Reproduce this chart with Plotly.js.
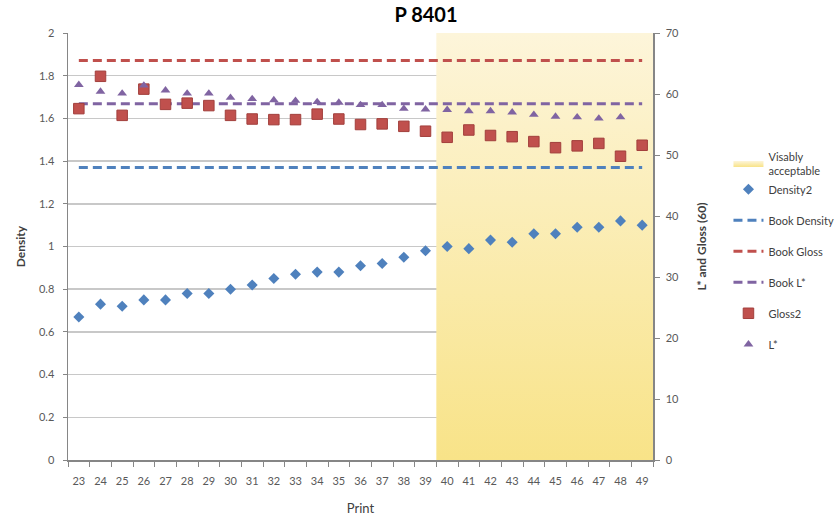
<!DOCTYPE html>
<html>
<head>
<meta charset="utf-8">
<script src="https://cdn.plot.ly/plotly-3.0.1.min.js"></script>
<style>
  html, body { margin: 0; padding: 0; background: #fff; }
  #chart { width: 837px; height: 519px; }
</style>
</head>
<body>
<div id="chart"></div>
<script>
// Print numbers along the run
const prints = [23, 24, 25, 26, 27, 28, 29, 30, 31, 32, 33, 34, 35, 36, 37, 38, 39,
                40, 41, 42, 43, 44, 45, 46, 47, 48, 49];

// Measured density per print (left axis)
const density2 = [0.67, 0.73, 0.72, 0.75, 0.75, 0.78, 0.78, 0.80, 0.82, 0.85, 0.87, 0.88, 0.88,
                  0.91, 0.92, 0.95, 0.98, 1.00, 0.99, 1.03, 1.02, 1.06, 1.06, 1.09, 1.09, 1.12, 1.10];

// Measured gloss (60°) per print (right axis)
const gloss2 = [57.6, 62.9, 56.5, 60.8, 58.3, 58.5, 58.1, 56.5, 55.9, 55.8, 55.8, 56.7, 55.9,
                55.0, 55.1, 54.7, 53.9, 52.9, 54.1, 53.2, 53.0, 52.2, 51.2, 51.5, 51.9, 49.8, 51.6];

// Measured L* per print (right axis); print 49 was not measured
const lStar = [61.5, 60.4, 60.1, 61.4, 60.6, 60.1, 60.1, 59.4, 59.2, 59.0, 58.9, 58.7, 58.6,
               58.2, 58.2, 57.6, 57.5, 57.4, 57.2, 57.2, 57.0, 56.6, 56.3, 56.2, 56.0, 56.2, null];

// Book reference targets
const bookDensity = 1.37;
const bookGloss = 65.5;
const bookL = 58.4;

// Prints judged visually acceptable; the band fills the full height of the density axis
const acceptablePrints = [40, 41, 42, 43, 44, 45, 46, 47, 48, 49];
const bandTop = 2;

const BLUE = '#4f81bd', RED = '#c0504d', PURPLE = '#8064a2';
const dashPattern = '9px,5px';
const first = prints[0], last = prints[prints.length - 1];
const bandStart = acceptablePrints[0] - 0.5;
const bandEnd = acceptablePrints[acceptablePrints.length - 1] + 0.5;

const traces = [
  {
    name: 'Visably<br>acceptable',
    x: [bandStart, bandEnd], y: [bandTop, bandTop],
    type: 'scatter', mode: 'none',
    fill: 'tozeroy',
    fillcolor: '#fbeeb0',
    fillgradient: {type: 'vertical', start: 0, stop: bandTop,
                   colorscale: [[0, '#f8e388'], [1, '#fdf5da']]},
    legendgroup: 'g1', hoverinfo: 'skip'
  },
  {
    name: 'Density2', x: prints, y: density2, type: 'scatter', mode: 'markers',
    marker: {symbol: 'diamond', size: 8.5, color: BLUE},
    legendgroup: 'g1'
  },
  {
    name: 'Book Density', x: [first, last], y: [bookDensity, bookDensity],
    type: 'scatter', mode: 'lines',
    line: {color: BLUE, width: 3, dash: dashPattern},
    legendgroup: 'g2'
  },
  {
    name: 'Book Gloss', x: [first, last], y: [bookGloss, bookGloss], yaxis: 'y2',
    type: 'scatter', mode: 'lines',
    line: {color: RED, width: 3, dash: dashPattern},
    legendgroup: 'g3'
  },
  {
    name: 'Book L*', x: [first, last], y: [bookL, bookL], yaxis: 'y2',
    type: 'scatter', mode: 'lines',
    line: {color: PURPLE, width: 3, dash: dashPattern},
    legendgroup: 'g4'
  },
  {
    name: 'Gloss2', x: prints, y: gloss2, yaxis: 'y2', type: 'scatter', mode: 'markers',
    marker: {symbol: 'square', size: 10.5, color: RED, line: {color: '#a23f3c', width: 1}},
    legendgroup: 'g5'
  },
  {
    name: 'L*', x: prints, y: lStar, yaxis: 'y2', type: 'scatter', mode: 'markers',
    marker: {symbol: 'triangle-up', size: 8.5, color: PURPLE},
    legendgroup: 'g6'
  }
];

const tickFont = {family: 'Lato, "Open Sans", sans-serif', size: 11, color: '#595959'};

const layout = {
  width: 837, height: 519,
  margin: {l: 68, r: 184, t: 33, b: 59, autoexpand: false},
  paper_bgcolor: '#ffffff', plot_bgcolor: '#ffffff',
  font: {family: 'Lato, "Open Sans", sans-serif', color: '#404040'},
  title: {
    text: '<b>P 8401</b>',
    font: {size: 20, color: '#000000', family: 'Lato, "Open Sans", sans-serif'},
    xref: 'container', yref: 'container',
    x: 0.509, xanchor: 'center', y: 1 - 15 / 519, yanchor: 'middle'
  },
  showlegend: true,
  legend: {
    x: 1.129, xanchor: 'left', y: 0.742, yanchor: 'top',
    font: {size: 11, color: '#404040'},
    traceorder: 'grouped', tracegroupgap: 12,
    bgcolor: 'rgba(0,0,0,0)'
  },
  xaxis: {
    range: [first - 0.5, last + 0.5],
    tickmode: 'array', tickvals: prints, ticktext: prints.map(String),
    ticks: '', showgrid: false, zeroline: false,
    showline: true, linecolor: '#868686', linewidth: 1.5,
    tickfont: tickFont, ticklabelstandoff: 10,
    minor: {tick0: first - 0.5, dtick: 1, ticks: 'outside', ticklen: 5,
            tickcolor: '#868686', tickwidth: 1, showgrid: false},
    title: {text: 'Print', font: {size: 13, color: '#404040'}, standoff: 18}
  },
  yaxis: {
    range: [0, 2], dtick: 0.2, tick0: 0,
    showgrid: true, gridcolor: '#c8c8c8', gridwidth: 1.5,
    zeroline: false, showline: true, linecolor: '#868686', linewidth: 1.5,
    ticks: 'outside', ticklen: 4, tickcolor: '#868686',
    tickfont: tickFont, ticklabelstandoff: 6,
    title: {text: '<b>Density</b>', font: {size: 12, color: '#404040'}, standoff: 10}
  },
  yaxis2: {
    range: [0, 70], dtick: 10, tick0: 0, overlaying: 'y', side: 'right',
    showgrid: false, zeroline: false,
    showline: true, linecolor: '#868686', linewidth: 1.5,
    ticks: 'outside', ticklen: 5, tickcolor: '#868686',
    tickfont: tickFont, ticklabelstandoff: 4,
    title: {text: '<b>L* and Gloss (60)</b>', font: {size: 12, color: '#404040'}, standoff: 19}
  }
};

Plotly.newPlot('chart', traces, layout, {staticPlot: true, displayModeBar: false});
</script>
</body>
</html>
